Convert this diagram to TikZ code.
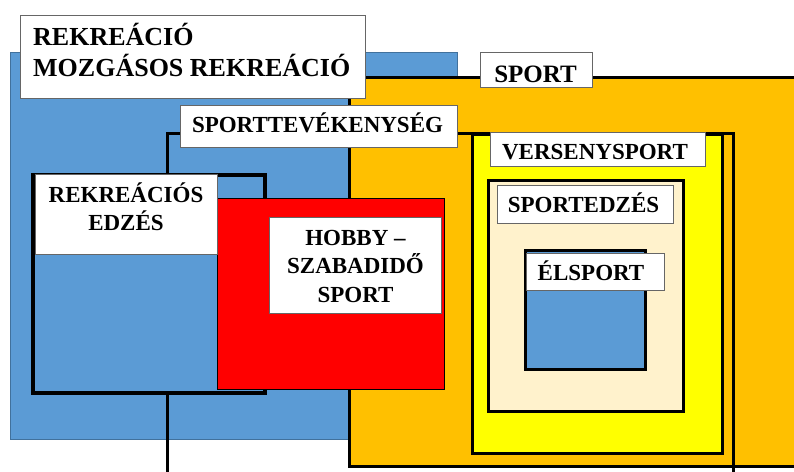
\documentclass[tikz,border=0pt]{standalone}
\usepackage{fontspec}
\setmainfont{Liberation Serif}
\definecolor{cblue}{HTML}{5B9BD5}
\definecolor{cblueb}{HTML}{41719C}
\definecolor{corange}{HTML}{FFC000}
\definecolor{cred}{HTML}{FF0000}
\definecolor{cyel}{HTML}{FFFF00}
\definecolor{ccream}{HTML}{FFF2CC}
\begin{document}
\begin{tikzpicture}[x=1pt,y=-1pt,
  heavy/.style={line width=3pt,draw=black},
  lblbox/.style={draw=black!60,line width=0.8pt,fill=white,inner sep=0pt,outer sep=0pt,anchor=north west},
  tbig/.style={font=\fontsize{26}{31}\selectfont\bfseries,inner sep=0pt,anchor=base west},
  tmid/.style={font=\fontsize{25}{30}\selectfont\bfseries,inner sep=0pt,anchor=base},
  tlbl/.style={font=\fontsize{23}{28}\selectfont\bfseries,inner sep=0pt,anchor=base}]
\useasboundingbox (0,0) rectangle (794,471);
\clip (0,0) rectangle (794,471);
\fill[white] (0,0) rectangle (794,471);
% REKREACIO area
\draw[fill=cblue,draw=cblueb,line width=0.6pt] (10,52) rectangle (457,439);
% SPORT area
\fill[corange] (349,77) rectangle (800,466);
\draw[heavy] (800,77) -- (349,77) -- (349,466) -- (800,466);
% SPORTTEVEKENYSEG frame
\draw[line width=3pt] (167,475) -- (167,133) -- (733,133) -- (733,475);
% REKREACIOS EDZES
\draw[fill=cblue,line width=3.5pt] (33,175) rectangle (265,393);
% HOBBY
\draw[fill=cred,draw=black,line width=0.6pt] (217,198) rectangle (444,389);
% VERSENYSPORT
\draw[heavy,fill=cyel] (472,134) rectangle (722,453);
% SPORTEDZES
\draw[heavy,fill=ccream] (488,180) rectangle (683,411);
% ELSPORT
\draw[heavy,fill=cblue] (525,250) rectangle (645,369);
% label boxes
\node[lblbox,minimum width=345pt,minimum height=83pt] (rekbox) at (20,15) {};
\node[lblbox,minimum width=277pt,minimum height=42pt] (stbox) at (180,105) {};
\node[lblbox,minimum width=112pt,minimum height=35pt] (spbox) at (480,52) {};
\node[lblbox,minimum width=215pt,minimum height=34pt] (vsbox) at (490,132) {};
\node[lblbox,minimum width=176pt,minimum height=38pt] (sebox) at (497,185) {};
\node[lblbox,minimum width=138pt,minimum height=37pt] (elbox) at (526,253) {};
\node[lblbox,minimum width=182pt,minimum height=80pt] (rebox) at (35,174) {};
\node[lblbox,minimum width=172pt,minimum height=96pt] (hobox) at (269,217) {};
% texts
\node[tbig] (rek1) at (33,45) {REKREÁCIÓ};
\node[tbig] (rek2) at (33,76) {MOZGÁSOS REKREÁCIÓ};
\node[tlbl] (st) at (317.5,132) {SPORTTEVÉKENYSÉG};
\node[tmid] (sp) at (535.5,82) {SPORT};
\node[tlbl] (vs) at (595,159) {VERSENYSPORT};
\node[tlbl] (se) at (583.5,212.5) {SPORTEDZÉS};
\node[tlbl] (el) at (591,280) {ÉLSPORT};
\node[tlbl] (re1) at (126,202) {REKREÁCIÓS};
\node[tlbl] (re2) at (126,230) {EDZÉS};
\node[tlbl] (ho1) at (355.5,245) {HOBBY –};
\node[tlbl] (ho2) at (355.5,273.5) {SZABADIDŐ};
\node[tlbl] (ho3) at (355.5,302) {SPORT};
\end{tikzpicture}
\end{document}
